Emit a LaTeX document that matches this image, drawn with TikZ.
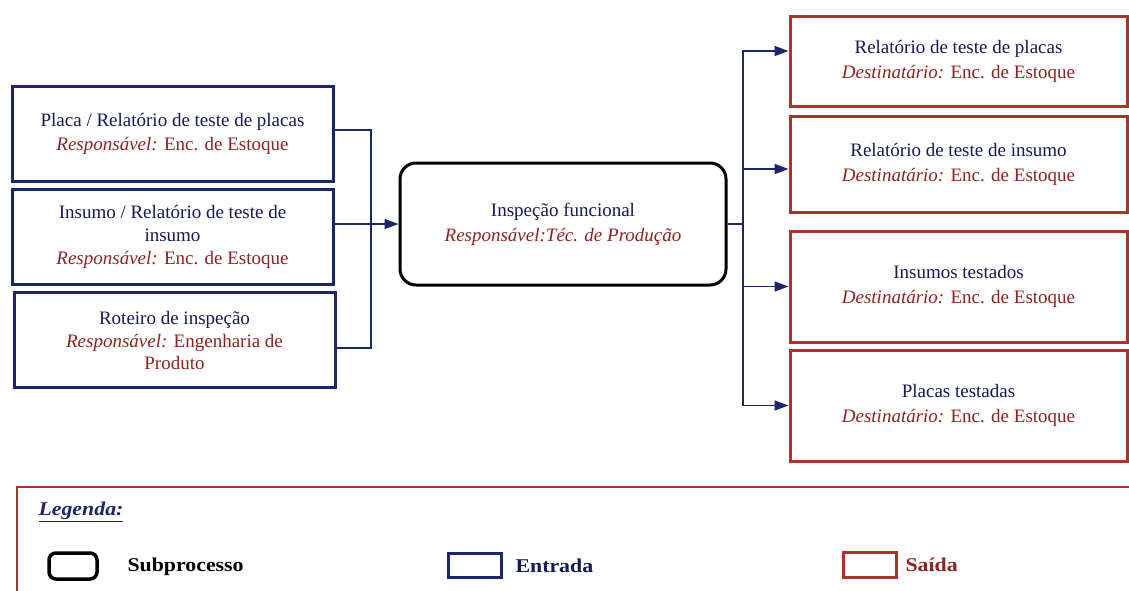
\documentclass[tikz,border=0pt]{standalone}
\usepackage{fontspec}
\setmainfont{Liberation Serif}
\newfontfamily\legfont[FakeStretch=1.12]{Liberation Serif}
\usetikzlibrary{arrows.meta}
\definecolor{navy}{HTML}{1B2768}
\definecolor{navytext}{HTML}{141A55}
\definecolor{dred}{HTML}{A8342C}
\definecolor{redtext}{HTML}{8E2420}
\begin{document}
\begin{tikzpicture}[x=1pt,y=-1pt,
  inbox/.style={draw=navy,line width=3pt,minimum width=321pt,minimum height=95pt,align=center,inner sep=4pt,font=\fontsize{19}{24}\selectfont},
  outbox/.style={draw=dred,line width=3pt,minimum width=337pt,align=center,inner sep=4pt,font=\fontsize{19}{25}\selectfont},
  subbox/.style={draw=black,line width=3pt,rounded corners=16pt,minimum width=326pt,minimum height=122pt,align=center,font=\fontsize{19}{26}\selectfont},
  conn/.style={draw=navy,line width=1.6pt},
  arr/.style={-{Triangle[length=14pt,width=10pt]}},
  legtxt/.style={anchor=west,font=\legfont\fontsize{19.5}{22}\selectfont\bfseries}]
\useasboundingbox (0,0) rectangle (1129,590);
\clip (0,0) rectangle (1129,590);
\fill[white] (0,0) rectangle (1129,590);

% inputs
\node[inbox] (in1) at (172.5,134) {{\color{navytext}Placa / Relatório de teste de placas}\\{\color{redtext}\textit{Responsável:} Enc. de Estoque}};
\node[inbox] (in2) at (172.5,237) {{\color{navytext}Insumo / Relatório de teste de}\\[-1pt]{\color{navytext}insumo}\\[-1pt]{\color{redtext}\textit{Responsável:} Enc. de Estoque}};
\node[inbox] (in3) at (174.5,340) {{\color{navytext}Roteiro de inspeção}\\[-1pt]{\color{redtext}\textit{Responsável:} Engenharia de}\\[-2pt]{\color{redtext}Produto}};

% subprocess
\node[subbox] (sub) at (563,224) {{\color{navytext}Inspeção funcional}\\[-1pt]{\color{redtext}\textit{Responsável:Téc. de Produção}}};

% outputs
\node[outbox,minimum height=90pt] (out1) at (958.5,61) {{\color{navytext}Relatório de teste de placas}\\{\color{redtext}\textit{Destinatário:} Enc. de Estoque}};
\node[outbox,minimum height=96pt] (out2) at (958.5,164) {{\color{navytext}Relatório de teste de insumo}\\{\color{redtext}\textit{Destinatário:} Enc. de Estoque}};
\node[outbox,minimum height=111pt] (out3) at (958.5,286.5) {{\color{navytext}Insumos testados}\\{\color{redtext}\textit{Destinatário:} Enc. de Estoque}};
\node[outbox,minimum height=111pt] (out4) at (958.5,405.5) {{\color{navytext}Placas testadas}\\{\color{redtext}\textit{Destinatário:} Enc. de Estoque}};

% connectors into the subprocess
\coordinate (jin) at (371,224);
\draw[conn] ([yshift=4pt]in1.east) -| (jin);
\draw[conn] ([yshift=-8pt]in3.east) -| (jin);
\draw[conn,arr] (in2.east |- sub.west) -- (sub.west);

% connectors out of the subprocess
\coordinate (jout) at (743,224);
\draw[conn] (sub.east) -- (jout);
\draw[conn,arr] (jout) |- ([yshift=10pt]out1.west);
\draw[conn,arr] (jout) |- ([yshift=-5pt]out2.west);
\draw[conn,arr] (jout) |- (out3.west);
\draw[conn,arr] (jout) |- (out4.west);

% legend
\node[draw=dred,line width=1.5pt,minimum width=1130pt,minimum height=120pt,anchor=north west] (leg) at (16,486) {};
\node[legtxt,color=navy,font=\legfont\fontsize{19.5}{22}\selectfont\bfseries\itshape] (legt) at (35,512) {\underline{Legenda:}};
\node[draw=black,line width=3.5pt,rounded corners=7pt,minimum width=48pt,minimum height=26pt] (ls) at (73,566) {};
\node[legtxt] (lst) at (124,567) {Subprocesso};
\node[draw=navy,line width=3pt,minimum width=53pt,minimum height=24pt] (le) at (474.5,565) {};
\node[legtxt,color=navytext] (let) at (512,566) {Entrada};
\node[draw=dred,line width=3pt,minimum width=53pt,minimum height=25pt] (lo) at (869.5,564.5) {};
\node[legtxt,color=redtext] (lot) at (902,565) {Saída};
\end{tikzpicture}
\end{document}
